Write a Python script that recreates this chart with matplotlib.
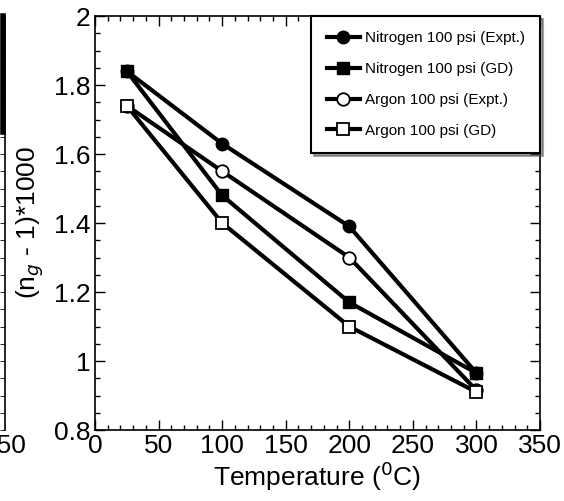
import matplotlib
matplotlib.use("Agg")
import matplotlib.pyplot as plt
from matplotlib.ticker import MultipleLocator

plt.rcParams['font.family'] = ['Liberation Sans Narrow', 'Liberation Sans', 'DejaVu Sans']

temperature = [25, 100, 200, 300]
nitrogen_expt = [1.84, 1.63, 1.39, 0.965]
nitrogen_gd = [1.84, 1.48, 1.17, 0.965]
argon_expt = [1.74, 1.55, 1.30, 0.915]
argon_gd = [1.74, 1.40, 1.10, 0.91]

series_labels = ["Nitrogen 100 psi (Expt.)", "Nitrogen 100 psi (GD)",
                 "Argon 100 psi (Expt.)", "Argon 100 psi (GD)"]

W, H = 564, 501
fig = plt.figure(figsize=(W / 100, H / 100), dpi=100)

left, right, top, bottom = 95, 540, 16, 430
ax = fig.add_axes([left / W, 1 - bottom / H, (right - left) / W, (bottom - top) / H])

lw = 3.0
ms = 9
ax.plot(temperature, nitrogen_expt, '-o', color='black', lw=lw, ms=ms,
        mfc='black', mec='black', label=series_labels[0], zorder=3)
ax.plot(temperature, nitrogen_gd, '-s', color='black', lw=lw, ms=ms,
        mfc='black', mec='black', label=series_labels[1], zorder=4)
ax.plot(temperature, argon_expt, '-o', color='black', lw=lw, ms=ms,
        mfc='white', mec='black', mew=1.3, label=series_labels[2], zorder=3)
ax.plot(temperature, argon_gd, '-s', color='black', lw=lw, ms=ms,
        mfc='white', mec='black', mew=1.3, label=series_labels[3], zorder=4)

ax.set_xlim(0, 350)
ax.set_ylim(0.8, 2.0)
ax.xaxis.set_minor_locator(MultipleLocator(10))
ax.yaxis.set_minor_locator(MultipleLocator(0.05))
ax.set_xticks([0, 50, 100, 150, 200, 250, 300, 350])
ax.set_xticklabels(['0', '50', '100', '150', '200', '250', '300', '350'])
ax.set_yticks([0.8, 1.0, 1.2, 1.4, 1.6, 1.8, 2.0])
ax.set_yticklabels(['0.8', '1', '1.2', '1.4', '1.6', '1.8', '2'])
ax.tick_params(which='both', direction='in', top=True, right=True,
               labelsize=19, width=1.0, pad=3)
ax.tick_params(which='major', length=7)
ax.tick_params(which='minor', length=3.5)
for s in ax.spines.values():
    s.set_linewidth(1.2)

ax.set_xlabel('Temperature ($^{0}$C)', fontsize=19, labelpad=1)
ax.set_ylabel('(n$_{g}$ - 1)*1000', fontsize=19, labelpad=6)

leg = ax.legend(loc='upper right', borderaxespad=0.0, fontsize=11,
                frameon=True, fancybox=False, shadow=True, handlelength=2.2,
                handletextpad=0.3, labelspacing=1.1, borderpad=1.0,
                markerscale=1.0)
leg.get_frame().set_edgecolor('black')
leg.get_frame().set_linewidth(1.5)

# Edge of the neighbouring panel on the left
ax_prev = fig.add_axes([-0.5, 1 - bottom / H, 0.5 + 4.5 / W, (bottom - top) / H])
ax_prev.set_xlim(0, 350)
ax_prev.set_ylim(0.8, 2.0)
ax_prev.set_xticks([350])
ax_prev.set_xticklabels(['350'])
ax_prev.set_yticks([])
ax_prev.yaxis.set_minor_locator(MultipleLocator(0.05))
ax_prev.tick_params(axis='x', labelsize=19, direction='in', length=0, pad=3)
ax_prev.tick_params(axis='y', which='both', direction='in', right=True, left=False,
                    length=3.5)
for name, s in ax_prev.spines.items():
    s.set_visible(name == 'right')
ax_prev.spines['right'].set_linewidth(1.2)
ax_prev.plot([0.995, 0.995], [0.72, 1.0], transform=ax_prev.transAxes,
             color='black', lw=4, clip_on=False)

fig.savefig('out.png', dpi=100)
